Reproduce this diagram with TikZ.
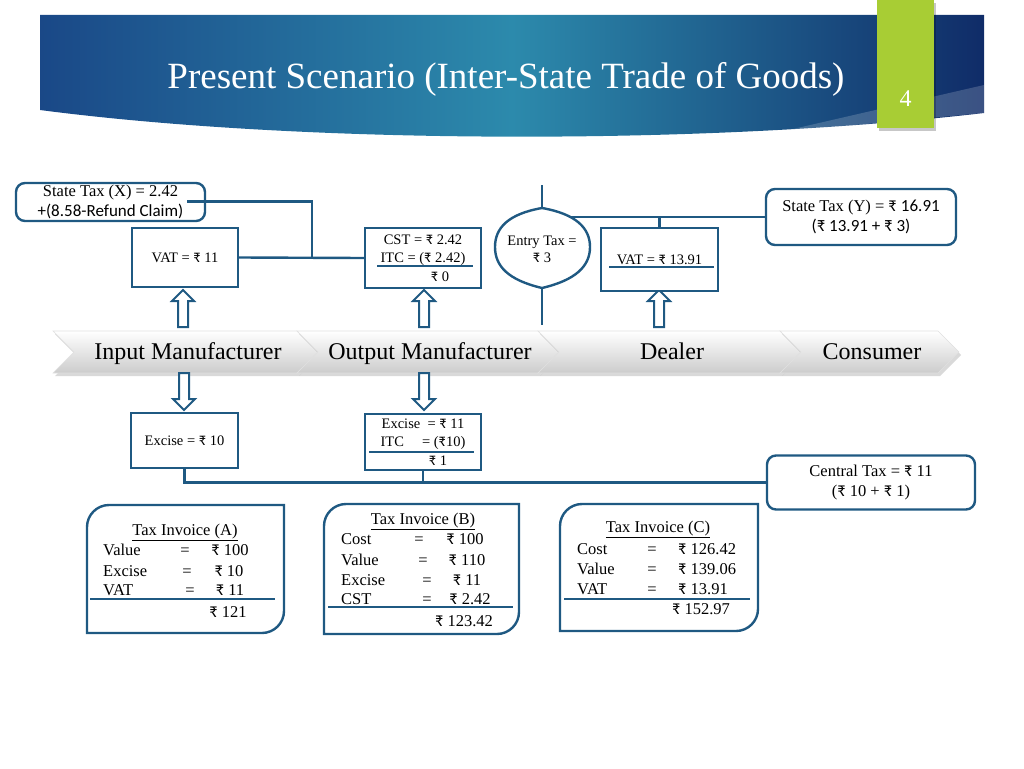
\documentclass[tikz,border=0pt]{standalone}
\usepackage{fontspec}
\setmainfont{Liberation Serif}
\newfontfamily\calib{Carlito}
\usetikzlibrary{shadows}
\definecolor{boxc}{RGB}{31,89,130}
\definecolor{tabg}{RGB}{168,205,52}
\definecolor{bnL}{RGB}{26,72,135}
\definecolor{bnM}{RGB}{44,138,172}
\definecolor{bnR}{RGB}{16,44,104}
\newcommand\rs{{\calib ₹}}
\begin{document}
\begin{tikzpicture}[x=1pt,y=-1pt,
  ln/.style={draw=boxc,line width=2.4pt},
  box/.style={draw=boxc,line width=2.4pt,fill=white,inner sep=0pt,align=center,font=\fontsize{14.5}{18.5}\selectfont},
  rbox/.style={box,rounded corners=9pt,font=\fontsize{16.5}{20}\selectfont},
  tx/.style={inner sep=0pt,anchor=base,font=\fontsize{16.5}{20}\selectfont},
  txl/.style={tx,anchor=base west},
  hol/.style={draw=boxc,line width=2pt,fill=white,line join=miter},
  chev/.style={top color=white,bottom color=black!20,draw=black!12,line width=0.6pt,
     drop shadow={shadow xshift=2pt,shadow yshift=-3pt,opacity=0.3}},
  chevtxt/.style={anchor=base,font=\fontsize{24}{24}\selectfont},
  uparr/.pic={\path[hol] (0,0) -- (11,11) -- (5,11) -- (5,37) -- (-5,37) -- (-5,11) -- (-11,11) -- cycle;},
  dnarr/.pic={\path[hol] (0,37) -- (11,26) -- (5,26) -- (5,0) -- (-5,0) -- (-5,26) -- (-11,26) -- cycle;}
]
\useasboundingbox (0,0) rectangle (1024,768);
% banner
\shade[left color=bnL,right color=bnR,middle color=bnM]
  (40,15) -- (984,15) -- (984,113) .. controls (700,146) and (300,144) .. (40,110) -- cycle;
\fill[white,opacity=0.18] (984,85) -- (780,132) -- (984,113) -- cycle;
\fill[black,opacity=0.22] (879,3) rectangle (936,131);
\fill[tabg] (877,0) rectangle (934,128);
\node[text=white,font=\fontsize{24}{24}\selectfont,anchor=base] (pg) at (905.5,106) {4};
\node[text=white,font=\fontsize{37}{37}\selectfont,anchor=base] (title) at (506,88) {Present Scenario (Inter-State Trade of Goods)};

% chevron bar
\foreach \L/\R in {53/297,297/538,538/780,780/938}
  \path[chev] (\L,331) -- (\R,331) -- ({\R+21},352) -- (\R,373) -- (\L,373) -- ({\L+21},352) -- cycle;
\node[chevtxt] (im) at (188,359) {Input Manufacturer};
\node[chevtxt] (om) at (430,359) {Output Manufacturer};
\node[chevtxt] (dl) at (672,359) {Dealer};
\node[chevtxt] (cs) at (872,359) {Consumer};

% hollow arrows
\pic at (183,290) {uparr};
\pic at (424,290) {uparr};
\pic at (659,290) {uparr};
\pic at (184,373) {dnarr};
\pic at (424,373) {dnarr};

% upper connectors
\coordinate (sxo) at (187,201.5);
\coordinate (j1) at (312,258);
\coordinate (etop) at (542,185);
\coordinate (en) at (542,208);
\coordinate (es) at (542,288);
\coordinate (ebot) at (542,325);
\coordinate (ene) at (565,217);
\coordinate (jb) at (659.5,217);

\node[box,minimum width=106pt,minimum height=59pt] (vat1) at (185,257.5) {VAT = \rs\ 11};
\node[box,minimum width=116pt,minimum height=60pt] (cst) at (423,258) {CST = \rs\ 2.42\\ITC = (\rs\ 2.42)\\\hspace*{34pt}\rs\ 0};
\node[box,minimum width=117pt,minimum height=63pt] (vat2) at (659.5,259.5) {VAT = \rs\ 13.91};
\node[rbox,minimum width=189pt,minimum height=38pt] (stx) at (110.5,202) {State Tax (X) = 2.42\\{\calib\fontsize{17}{19}\selectfont +(8.58-Refund Claim)}};
\node[rbox,minimum width=190pt,minimum height=56pt] (sty) at (861,217) {State Tax (Y) = \rs\ {\calib\fontsize{17}{19}\selectfont 16.91}\\{\calib\fontsize{17}{19}\selectfont (₹ 13.91 + ₹ 3)}};

\draw[ln] (sxo) -| (j1);
\draw[ln] (vat1.east) -- (cst.west);
\draw[ln] (etop) -- (en);
\draw[ln] (es) -- (ebot);
\draw[ln] (ene) -- (sty.west);
\draw[ln] (jb) -- (vat2.north);
\draw[ln,fill=white] (en) .. controls (576,214) and (590,228) .. (590,247) .. controls (590,266) and (576,280) .. (es) .. controls (508,280) and (495,266) .. (495,247) .. controls (495,228) and (508,214) .. (en) -- cycle;
\node[align=center,inner sep=0pt,font=\fontsize{14.5}{17}\selectfont] (ent) at (542,249) {Entry Tax =\\\rs\ 3};

\draw[ln] (377,266) -- (473,266);
\draw[ln] (609,267) -- (714,267);

% lower boxes
\node[box,minimum width=107pt,minimum height=55pt] (ex1) at (184.5,440.5) {Excise = \rs\ 10};
\node[box,minimum width=116pt,minimum height=56pt] (ex2) at (423,442) {Excise\enspace= \rs\ 11\\ITC\quad\ = (\rs10)\\\hspace*{30pt}\rs\ 1};
\draw[ln] (369,452) -- (474,452);
\node[rbox,minimum width=208pt,minimum height=54pt] (ct) at (871,482.5) {Central Tax = \rs\ 11\\(\rs\ 10 + \rs\ 1)};
\draw[ln] (ex1.south) |- (ct.west);
\draw[ln] (ex2.south) -- (ex2.south |- ct.west);

% invoice A
\draw[ln,fill=white] (87,527) .. controls (87,514.9) and (96.9,505) .. (109,505) -- (284,505) -- (284,611) .. controls (284,623.1) and (274.1,633) .. (262,633) -- (87,633) -- cycle;
\node[tx] (ta) at (185,535.5) {\underline{Tax Invoice (A)}};
\node[txl] (ta1) at (103,555.5) {Value};
\node[tx] (ta1e) at (185,555.5) {=};
\node[tx] (ta1v) at (230,555.5) {\rs\ 100};
\node[txl] (ta2) at (103,576) {Excise};
\node[tx] (ta2e) at (187,576) {=};
\node[tx] (ta2v) at (229,576) {\rs\ 10};
\node[txl] (ta3) at (103,595.5) {VAT};
\node[tx] (ta3e) at (190,595.5) {=};
\node[tx] (ta3v) at (230,595.5) {\rs\ 11};
\draw[ln] (90,599) -- (275,599);
\node[tx] (tat) at (228,617) {\rs\ 121};

% invoice B
\draw[ln,fill=white] (324,526) .. controls (324,513.9) and (333.9,504) .. (346,504) -- (519,504) -- (519,612) .. controls (519,624.1) and (509.1,634) .. (497,634) -- (324,634) -- cycle;
\node[tx] (tb) at (423,524.5) {\underline{Tax Invoice (B)}};
\node[txl] (tb1) at (341,544.5) {Cost};
\node[tx] (tb1e) at (419,544.5) {=};
\node[tx] (tb1v) at (465,544.5) {\rs\ 100};
\node[txl] (tb2) at (341,565.5) {Value};
\node[tx] (tb2e) at (423,565.5) {=};
\node[tx] (tb2v) at (467,565.5) {\rs\ 110};
\node[txl] (tb3) at (341,585.5) {Excise};
\node[tx] (tb3e) at (427,585.5) {=};
\node[tx] (tb3v) at (467,585.5) {\rs\ 11};
\node[txl] (tb4) at (341,604.5) {CST};
\node[tx] (tb4e) at (427,604.5) {=};
\node[tx] (tb4v) at (470,604.5) {\rs\ 2.42};
\draw[ln] (328,607) -- (513,607);
\node[tx] (tbt) at (464,626.5) {\rs\ 123.42};

% invoice C
\draw[ln,fill=white] (560,526) .. controls (560,513.9) and (569.9,504) .. (582,504) -- (758,504) -- (758,609) .. controls (758,621.1) and (748.1,631) .. (736,631) -- (560,631) -- cycle;
\node[tx] (tc) at (658,532.5) {\underline{Tax Invoice (C)}};
\node[txl] (tc1) at (577,554.5) {Cost};
\node[tx] (tc1e) at (652,554.5) {=};
\node[txl] (tc1v) at (678,554.5) {\rs\ 126.42};
\node[txl] (tc2) at (577,574.5) {Value};
\node[tx] (tc2e) at (652,574.5) {=};
\node[txl] (tc2v) at (678,574.5) {\rs\ 139.06};
\node[txl] (tc3) at (577,594.5) {VAT};
\node[tx] (tc3e) at (652,594.5) {=};
\node[txl] (tc3v) at (678,594.5) {\rs\ 13.91};
\draw[ln] (564,599) -- (750,599);
\node[tx] (tct) at (701,614.5) {\rs\ 152.97};
\end{tikzpicture}
\end{document}
